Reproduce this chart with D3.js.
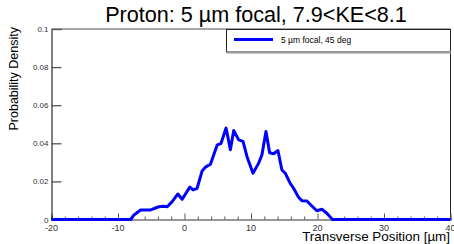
<!DOCTYPE html>
<html>
<head>
<meta charset="utf-8">
<script src="https://cdn.jsdelivr.net/npm/d3@7"></script>
<style>
  body { margin: 0; background: #fff; }
  svg { display: block; font-family: "Liberation Sans", Arial, sans-serif; }
</style>
</head>
<body>
<div id="chart"></div>
<script>
// Data
const positions = [-20, -8.1, -7.6, -6.6, -5.1, -3.85, -3.1, -2.6, -1.85, -1.0, -0.35, 0.8, 1.3, 1.9,
  2.65, 3.15, 3.9, 4.9, 5.5, 6.25, 6.9, 7.4, 8.15, 8.8, 9.4, 10.3, 11.15, 11.65, 12.25, 12.8,
  13.4, 14.05, 14.65, 15.15, 15.9, 16.4, 17.15, 17.65, 18.4, 19.15, 19.9, 20.65, 21.4, 22.25, 40];
const density = [0, 0, 0.0024, 0.005, 0.005, 0.0067, 0.007, 0.0067, 0.0094, 0.0134, 0.0106, 0.017, 0.0155, 0.0164,
  0.0255, 0.0275, 0.029, 0.039, 0.040, 0.048, 0.0366, 0.0467, 0.0418, 0.041, 0.033, 0.0243, 0.0296, 0.034, 0.0462, 0.035,
  0.0345, 0.0362, 0.026, 0.0243, 0.019, 0.0164, 0.0117, 0.0099, 0.0097, 0.0071, 0.0046, 0.0054, 0.0033, 0, 0];
const xTicks = [-20, -10, 0, 10, 20, 30, 40];
const yTicks = [0, 0.02, 0.04, 0.06, 0.08, 0.1];
const seriesName = "5 \u00b5m focal, 45 deg";

const W = 454, H = 244;
const mLeft = 51.5, mRight = 450.5, mTop = 29, mBottom = 219.5;

const svg = d3.select('#chart').append('svg')
  .attr('width', W)
  .attr('height', H);

const x = d3.scaleLinear().domain([-20, 40]).range([mLeft, mRight]);
const y = d3.scaleLinear().domain([0, 0.1]).range([mBottom, mTop]);

// frame top and right
svg.append('line').attr('x1', mLeft).attr('x2', mRight).attr('y1', mTop).attr('y2', mTop)
  .attr('stroke', '#888').attr('stroke-width', 1.5);
svg.append('line').attr('x1', mRight).attr('x2', mRight).attr('y1', mTop).attr('y2', mBottom)
  .attr('stroke', '#222').attr('stroke-width', 1);

// x axis with inner ticks
const xAxis = svg.append('g').attr('transform', `translate(0,${mBottom})`)
  .call(d3.axisBottom(x).tickValues(d3.range(-20, 41, 2)).tickSize(-3).tickFormat(''));
xAxis.select('.domain').attr('stroke', '#777').attr('stroke-width', 1.5);
xAxis.selectAll('.tick line').attr('stroke', '#555')
  .attr('y2', d => (d % 10 === 0 ? -6 : -3));
svg.append('g').selectAll('text').data(xTicks).join('text')
  .attr('x', d => x(d)).attr('y', mBottom + 11)
  .attr('text-anchor', 'middle')
  .attr('font-size', 9).attr('fill', '#333')
  .text(d => d);

// y axis with inner ticks
const yAxis = svg.append('g').attr('transform', `translate(${mLeft},0)`)
  .call(d3.axisLeft(y).tickValues(yTicks).tickSize(-10).tickFormat(''));
yAxis.select('.domain').attr('stroke', '#000').attr('stroke-width', 1);
yAxis.selectAll('.tick line').attr('stroke', '#555').attr('stroke-width', 1.3);
svg.append('g').selectAll('text').data(yTicks).join('text')
  .attr('x', mLeft - 3).attr('y', d => y(d) + 3)
  .attr('text-anchor', 'end')
  .attr('font-size', 8).attr('fill', '#333')
  .text(d => d === 0 ? '0' : d3.format('~g')(d));

// curve
const pts = positions.map((p, i) => [p, density[i]]);
svg.append('path').datum(pts)
  .attr('fill', 'none')
  .attr('stroke', '#0000ff')
  .attr('stroke-width', 3)
  .attr('stroke-linejoin', 'round')
  .attr('d', d3.line().x(d => x(d[0])).y(d => y(d[1])));

// legend
svg.append('rect').attr('x', 226.5).attr('y', 29.5).attr('width', 224).attr('height', 22.5)
  .attr('fill', '#fff').attr('stroke', '#222').attr('stroke-width', 1);
svg.append('line').attr('x1', 226.5).attr('x2', 451).attr('y1', 52.5).attr('y2', 52.5)
  .attr('stroke', '#999').attr('stroke-width', 2);
svg.append('line').attr('x1', 234).attr('x2', 273).attr('y1', 39.5).attr('y2', 39.5)
  .attr('stroke', '#0000ff').attr('stroke-width', 3);
svg.append('text').attr('x', 281).attr('y', 42.5)
  .attr('font-size', 8.5).attr('fill', '#000')
  .text(seriesName);

// title
svg.append('text').attr('x', 256).attr('y', 22)
  .attr('text-anchor', 'middle')
  .attr('font-size', 21.6).attr('fill', '#000')
  .text('Proton: 5 \u00b5m focal, 7.9<KE<8.1');

// axis titles
svg.append('text').attr('x', 450).attr('y', 241)
  .attr('text-anchor', 'end')
  .attr('font-size', 13.4).attr('fill', '#000')
  .text('Transverse Position [\u00b5m]');
svg.append('text')
  .attr('transform', 'translate(18,27) rotate(-90)')
  .attr('text-anchor', 'end')
  .attr('font-size', 12.5).attr('fill', '#000')
  .text('Probability Density');
</script>
</body>
</html>
